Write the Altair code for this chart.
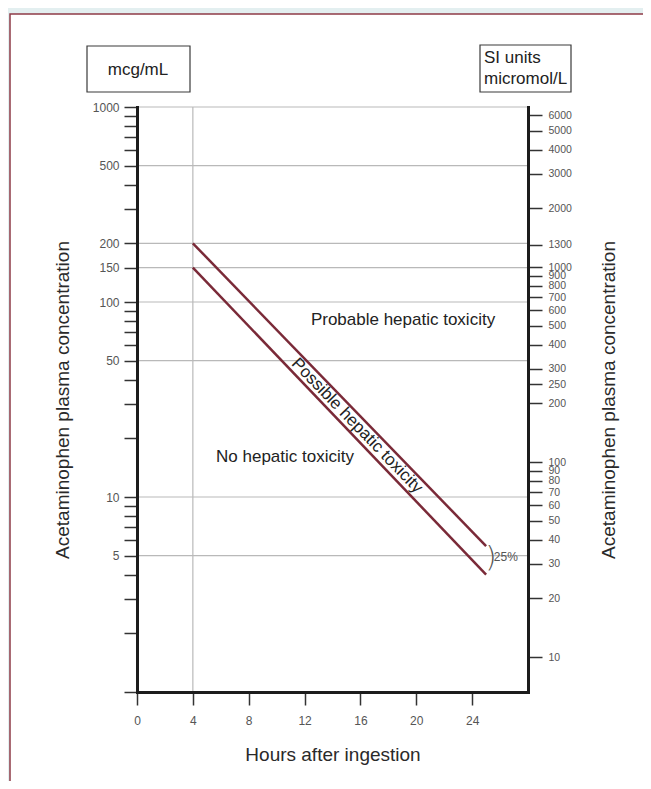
import altair as alt
import pandas as pd

FONT = "Liberation Sans"

# ---- data ----
hour_ticks = [0, 4, 8, 12, 16, 20, 24]
left_ticks = [1000, 900, 800, 700, 600, 500, 400, 300, 200, 150, 100, 90, 80, 70, 60,
              50, 40, 30, 20, 10, 9, 8, 7, 6, 5, 4, 3, 2, 1]
left_labels = [1000, 500, 200, 150, 100, 50, 10, 5]
grid_conc = [1000, 500, 200, 150, 100, 50, 10, 5]
grid_hours = [4]
si_ticks = [6000, 5000, 4000, 3000, 2000, 1300, 1000, 900, 800, 700, 600, 500, 400,
            300, 250, 200, 100, 90, 80, 70, 60, 50, 40, 30, 20, 10]

line_series = ["upper", "upper", "lower", "lower"]
line_hours = [4, 25, 4, 25]
line_conc = [200, 5.6, 150, 4.0]

MOLAR_MASS = 151.16  # acetaminophen g/mol -> 1 mcg/mL = 1000/151.16 micromol/L
CONC_MIN, CONC_MAX = 1, 1000
HOUR_MIN, HOUR_MAX = 0, 28

factor = 1000.0 / MOLAR_MASS
one = pd.DataFrame({"k": [0]})

xscale = alt.Scale(domain=[HOUR_MIN, HOUR_MAX], nice=False, zero=False)
yscale = alt.Scale(type="log", domain=[CONC_MIN, CONC_MAX], nice=False)

xaxis = alt.Axis(values=hour_ticks, title="Hours after ingestion", grid=False,
                 domainColor="#1c1c1c", domainWidth=3, domainCap="square",
                 tickColor="#333333", tickWidth=1.5, tickSize=13,
                 labelFontSize=12, labelColor="#555555", labelPadding=10, labelFlush=False,
                 labelFont=FONT, titleFont=FONT, titleFontSize=19, titleFontWeight="normal",
                 titleColor="#2a2a2a", titlePadding=19, zindex=2)

lab_list = ",".join(str(v) for v in left_labels)
yaxis = alt.Axis(values=left_ticks, title="Acetaminophen plasma concentration", grid=False,
                 labelExpr=f"indexof([{lab_list}], datum.value) >= 0 ? format(datum.value, 'd') : ''",
                 labelOverlap=False,
                 domainColor="#1c1c1c", domainWidth=3, domainCap="square",
                 tickColor="#333333", tickWidth=1.5, tickSize=13,
                 labelFontSize=12, labelColor="#555555", labelPadding=5,
                 labelFont=FONT, titleFont=FONT, titleFontSize=19, titleFontWeight="normal",
                 titleColor="#2a2a2a", titlePadding=20, zindex=2)


def X(field="hour"):
    return alt.X(f"{field}:Q", scale=xscale, axis=xaxis)


def Y(field="conc"):
    return alt.Y(f"{field}:Q", scale=yscale, axis=yaxis)


# white panel with dark red frame
panel = alt.Chart(one).mark_rect(fill="white", stroke="#8e3b47", strokeWidth=1.5).encode(
    x=alt.value(-127), x2=alt.value(540), y=alt.value(-93), y2=alt.value(720))

# unit boxes
box_mcg = alt.Chart(one).mark_rect(fill="white", stroke="#3a3a3a", strokeWidth=1.2).encode(
    x=alt.value(-50), x2=alt.value(53), y=alt.value(-61), y2=alt.value(-15))
txt_mcg = alt.Chart(one).mark_text(text="mcg/mL", font=FONT, fontSize=17, color="#222222").encode(
    x=alt.value(1), y=alt.value(-37))
box_si = alt.Chart(one).mark_rect(fill="white", stroke="#3a3a3a", strokeWidth=1.2).encode(
    x=alt.value(343), x2=alt.value(434), y=alt.value(-62), y2=alt.value(-15))
txt_si1 = alt.Chart(one).mark_text(text="SI units", font=FONT, fontSize=17, color="#222222",
                                   align="left").encode(x=alt.value(347), y=alt.value(-49))
txt_si2 = alt.Chart(one).mark_text(text="micromol/L", font=FONT, fontSize=17, color="#222222",
                                   align="left").encode(x=alt.value(347), y=alt.value(-28))

# grid lines
hgrid = alt.Chart(pd.DataFrame({"conc": grid_conc})).mark_rule(
    color="#b9b9b9", strokeWidth=1.2).encode(y=Y())
vgrid = alt.Chart(pd.DataFrame({"hour": grid_hours})).mark_rule(
    color="#b9b9b9", strokeWidth=1.2).encode(x=X())

# treatment lines
lines_df = pd.DataFrame({"series": line_series, "hour": line_hours, "conc": line_conc})
lines = alt.Chart(lines_df).mark_line(color="#7a2a38", strokeWidth=2.5).encode(
    x=X(), y=Y(), detail="series:N")


# region labels
def label(text, hour, conc, size=17, angle=0, align="center", color="#222222",
          font=FONT, weight="normal"):
    return alt.Chart(pd.DataFrame({"hour": [hour], "conc": [conc]})).mark_text(
        text=text, font=font, fontSize=size, angle=angle, align=align, baseline="middle",
        color=color, fontWeight=weight).encode(x=X(), y=Y())


lab_prob = label("Probable hepatic toxicity", 19.05, 81)
lab_no = label("No hepatic toxicity", 10.6, 16)
lab_poss = label("Possible hepatic toxicity", 15.76, 23.2, size=17, angle=46)
lab_pct = label("25%", 25.55, 4.9, size=12, align="left", color="#555555")
lab_brace = label(")", 25.35, 4.85, size=29, color="#555555", font="DejaVu Sans", weight=200)

inner = alt.layer(panel, box_mcg, txt_mcg, box_si, txt_si1, txt_si2,
                  hgrid, vgrid, lines, lab_prob, lab_no, lab_poss, lab_pct, lab_brace)

# right axis in SI units
right = alt.Chart(pd.DataFrame({"umol": [CONC_MIN * factor, CONC_MAX * factor]})).mark_point(
    opacity=0).encode(
    y=alt.Y("umol:Q",
            scale=alt.Scale(type="log", domain=[CONC_MIN * factor, CONC_MAX * factor], nice=False),
            axis=alt.Axis(orient="right", values=si_ticks, format="d", labelOverlap=False,
                          title="Acetaminophen plasma concentration", grid=False,
                          domainColor="#1c1c1c", domainWidth=3, domainCap="square",
                          tickColor="#333333", tickWidth=1.5, tickSize=14,
                          labelFontSize=10.5, labelColor="#555555", labelPadding=6,
                          labelFont=FONT, titleFont=FONT, titleFontSize=19,
                          titleFontWeight="normal", titleColor="#2a2a2a",
                          titleAngle=270, titleBaseline="top", titlePadding=28, zindex=2)))

chart = alt.layer(inner, right).resolve_scale(y="independent").properties(
    width=391, height=585,
    padding={"left": 129, "top": 99, "right": 115, "bottom": 89},
    autosize=alt.AutoSizeParams(type="none"),
    background="#e3eff0",
).configure_view(stroke=None)

chart.save("out.html", embed_options={"renderer": "svg", "actions": False})
